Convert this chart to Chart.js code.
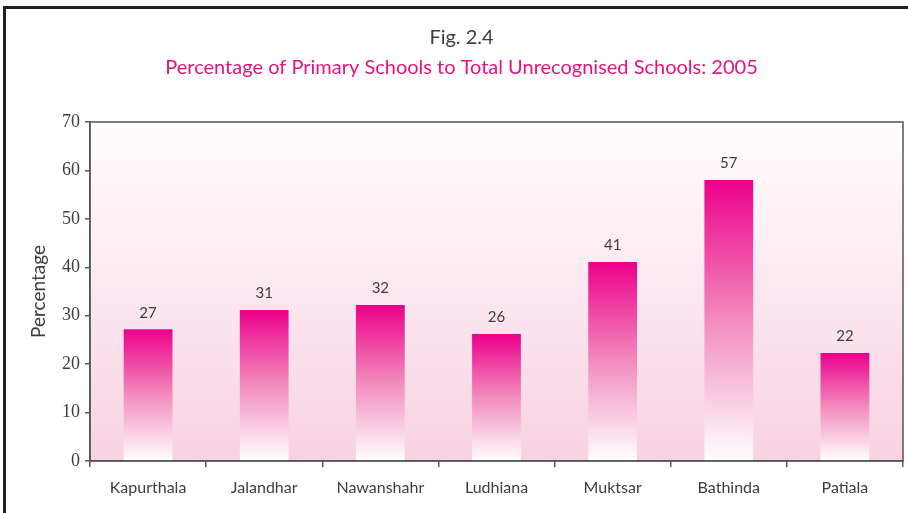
<!DOCTYPE html>
<html>
<head>
<meta charset="utf-8">
<script src="https://cdn.jsdelivr.net/npm/chart.js@4"></script>
<style>
  html, body { margin: 0; padding: 0; background: #fff; }
  #wrap { position: relative; width: 908px; height: 513px; }
</style>
</head>
<body>
<div id="wrap"><canvas id="schoolsChart" width="908" height="513"></canvas></div>
<script>
const districts = ['Kapurthala', 'Jalandhar', 'Nawanshahr', 'Ludhiana', 'Muktsar', 'Bathinda', 'Patiala'];
// bar heights as drawn, and the numbers printed above them
const barValues = [27.2, 31.2, 32.2, 26.2, 41.1, 58, 22.3];
const valueLabels = ['27', '31', '32', '26', '41', '57', '22'];
const yTicks = [0, 10, 20, 30, 40, 50, 60, 70];

const pink = '#ec008c';
const ink = '#3d3d3d';
const axisGrey = '#555555';
const sansFont = "Lato, 'Noto Sans', sans-serif";

// plot background + outer page frame
const frame = {
  id: 'frame',
  beforeDraw(chart) {
    const { ctx, chartArea: a } = chart;
    ctx.save();
    ctx.fillStyle = '#222';
    ctx.fillRect(3, 6, chart.width - 3, 3);
    ctx.fillRect(3, 6, 3, chart.height - 6);
    const g = ctx.createLinearGradient(0, a.top, 0, a.bottom);
    g.addColorStop(0, '#fffdfe');
    g.addColorStop(1, '#f8d2e2');
    ctx.fillStyle = g;
    ctx.fillRect(a.left, a.top, a.right - a.left, a.bottom - a.top);
    ctx.restore();
  },
  afterDraw(chart) {
    const { ctx, chartArea: a } = chart;
    ctx.save();
    ctx.strokeStyle = axisGrey;
    ctx.lineWidth = 1.5;
    ctx.strokeRect(a.left, a.top, a.right - a.left, a.bottom - a.top);
    ctx.restore();
  }
};

// numbers above bars
const barLabels = {
  id: 'barLabels',
  afterDatasetsDraw(chart) {
    const { ctx } = chart;
    ctx.save();
    ctx.font = '15px ' + sansFont;
    ctx.fillStyle = ink;
    ctx.textAlign = 'center';
    ctx.textBaseline = 'bottom';
    chart.getDatasetMeta(0).data.forEach((bar, i) => {
      ctx.fillText(valueLabels[i], bar.x, bar.y - 9);
    });
    ctx.restore();
  }
};

function barGradient(context) {
  const chart = context.chart;
  if (!chart.chartArea) return pink;
  const y = chart.scales.y;
  const top = y.getPixelForValue(barValues[context.dataIndex]);
  const bottom = y.getPixelForValue(0);
  const g = chart.ctx.createLinearGradient(0, top, 0, bottom);
  g.addColorStop(0, pink);
  g.addColorStop(0.5, '#f28cbd');
  g.addColorStop(1, '#ffffff');
  return g;
}

new Chart(document.getElementById('schoolsChart'), {
  type: 'bar',
  data: {
    labels: districts,
    datasets: [{
      data: barValues,
      backgroundColor: barGradient,
      borderWidth: 0,
      categoryPercentage: 1,
      barPercentage: 0.42,
    }]
  },
  options: {
    responsive: false,
    animation: false,
    layout: { padding: { top: 0, left: 20, right: 5, bottom: 0 } },
    plugins: {
      legend: { display: false },
      tooltip: { enabled: false },
      title: {
        display: true,
        text: 'Fig. 2.4',
        color: ink,
        font: { family: sansFont, size: 20, weight: 'normal' },
        padding: { top: 26, bottom: 6 }
      },
      subtitle: {
        display: true,
        text: 'Percentage of Primary Schools to Total Unrecognised Schools: 2005',
        color: '#e5137f',
        font: { family: sansFont, size: 20, weight: 'normal' },
        padding: { top: 0, bottom: 42 }
      }
    },
    scales: {
      x: {
        grid: { drawOnChartArea: false, tickLength: 6, color: axisGrey, lineWidth: 1.5 },
        border: { color: axisGrey, width: 1.5 },
        ticks: { color: ink, padding: 11, font: { family: sansFont, size: 16 } },
        afterFit(scale) { scale.height = 52; }
      },
      y: {
        min: 0,
        max: 70,
        afterBuildTicks(scale) { scale.ticks = yTicks.map(v => ({ value: v })); },
        grid: { drawOnChartArea: false, tickLength: 5, color: axisGrey, lineWidth: 1.5 },
        border: { color: axisGrey, width: 1.5 },
        ticks: { color: ink, padding: 5, font: { family: "'Liberation Serif', serif", size: 18 } },
        title: {
          display: true,
          text: 'Percentage',
          color: ink,
          font: { family: sansFont, size: 19 },
          padding: { top: 7, bottom: 0 }
        },
        afterFit(scale) { scale.width = 70; }
      }
    }
  },
  plugins: [frame, barLabels]
});
</script>
</body>
</html>
